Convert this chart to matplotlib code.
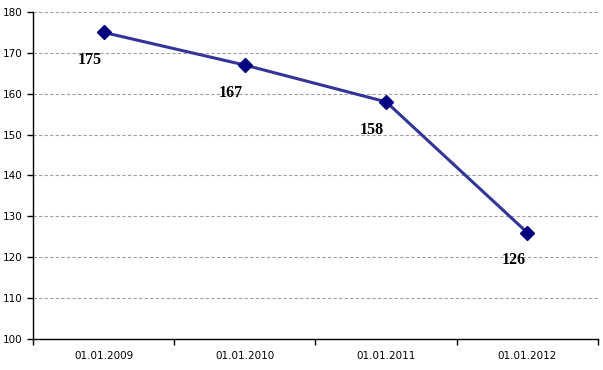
import matplotlib.pyplot as plt

dates = ["01.01.2009", "01.01.2010", "01.01.2011", "01.01.2012"]
values = [175, 167, 158, 126]

fig = plt.figure(figsize=(6.03, 3.70), dpi=100)
ax = fig.add_axes([0.0547, 0.0838, 0.937, 0.884])

x = list(range(len(dates)))
ax.plot(x, values, color="#333399", lw=2.2, zorder=3,
        marker="D", markersize=7, markerfacecolor="#000080",
        markeredgecolor="#000080")

for xi, v in zip(x, values):
    ax.annotate(str(v), (xi, v), xytext=(-10, -20), textcoords="offset points",
                ha="center", va="center", fontsize=11.5, fontweight="bold",
                family="Liberation Serif", zorder=4)

ax.set_xlim(-0.5, len(dates) - 0.5)
ax.set_ylim(100, 180)
ax.set_yticks(range(100, 181, 10))
ax.set_xticks(x)
ax.set_xticklabels(dates)
ax.set_xticks([i - 0.5 for i in range(len(dates) + 1)], minor=True)
ax.tick_params(axis="x", which="major", length=0, pad=9)
ax.tick_params(axis="x", which="minor", length=4, direction="out", width=1)
ax.tick_params(axis="y", length=4, direction="out", width=1)
for lab in ax.get_xticklabels() + ax.get_yticklabels():
    lab.set_fontsize(7.5)
    lab.set_family("DejaVu Sans")

ax.yaxis.grid(True, color="#a0a0a0", linestyle=(0, (3, 2)), lw=0.8)
ax.set_axisbelow(True)
ax.spines["top"].set_visible(False)
ax.spines["right"].set_visible(False)
ax.spines["left"].set_linewidth(1)
ax.spines["bottom"].set_linewidth(1)

fig.savefig("out.png", dpi=100)
